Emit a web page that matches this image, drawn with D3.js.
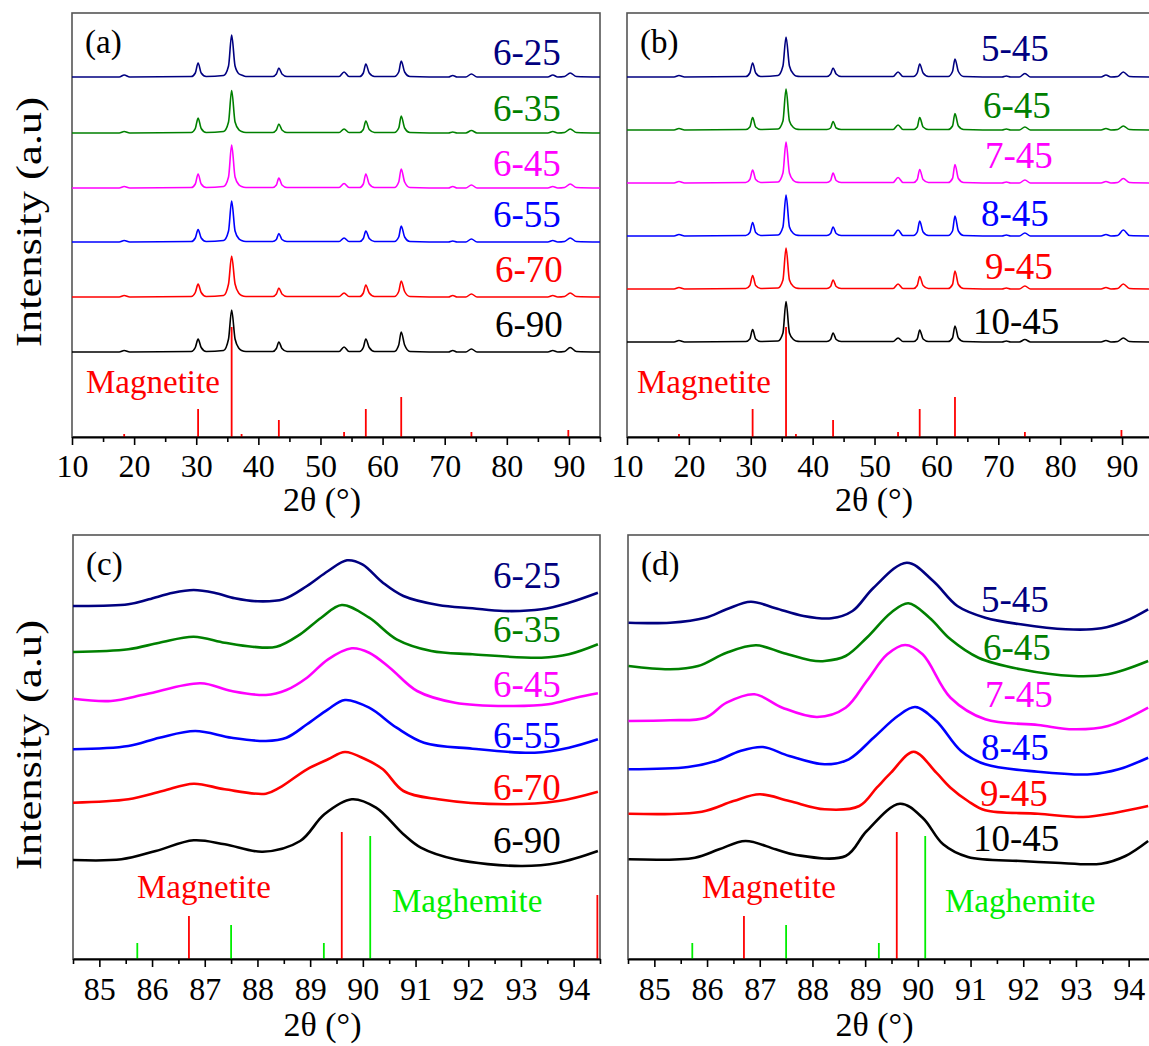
<!DOCTYPE html>
<html>
<head>
<meta charset="utf-8">
<script src="https://cdn.jsdelivr.net/npm/d3@7"></script>
<style>
  body { margin: 0; background: #fff; }
  svg text { font-family: "Liberation Serif", Tinos, "Times New Roman", Times, serif; }
</style>
</head>
<body>
<div class="chart"></div>
<script>

// ---- wide-range scans (10-95 deg), shared 2theta grid, intensity above each trace's baseline
const wideGrid = [10,17.6,18.4,19.3, 29.2,29.85,30.3,30.8,31.6, 34.4,35.2,35.7,36.25,36.9,37.3,38.0,
  42.3,42.9,43.3,43.8,44.6, 53.0,53.8,54.6, 56.3,56.9,57.3,57.85,58.7, 61.9,62.6,63.0,63.55,64.4,
  70.6,71.3,72.0, 73.4,74.3,75.2, 86.6,87.4,88.2, 89.3,90.2,91.2, 95];

const namesA = ['6-25','6-35','6-45','6-55','6-70','6-90'];
const offsetsA = [360, 304, 249, 195, 140, 85];
const scanA = [
  [0,0,2,0, 0.5,4,14,4,0.5, 1.5,11,42,11,3,2,0.5, 0.5,3,9,3,0.5, 0.5,5,0.5, 0.5,4,13,4,0.5, 0.5,5,16,5,0.5, 0,1.5,0, 0,3,0, 0,2,0, 0.5,4,0.5, 0],
  [0,0,1.5,0, 0.5,4.5,15,4.5,0.5, 1.5,11,42.5,11,3,1.5,0.5, 0.5,3,9,3,0.5, 0.5,4,0.5, 0.5,3.5,12,3.5,0.5, 0.5,5,17,5,0.5, 0,1,0, 0,2.5,0, 0,1.5,0, 0.5,4,0.5, 0],
  [0,0,1.5,0, 0.5,4,14,4,0.5, 1.5,11,43,11,3,1.5,0.5, 0.5,3,10,3,0.5, 0.5,4.5,0.5, 0.5,4,14,4,0.5, 0.5,6,19,6,0.5, 0,1.5,0, 0,3,0, 0,1.5,0, 0.5,4,0.5, 0],
  [0,0,1.5,0, 0.5,4,12.5,4,0.5, 1.5,11,41,11,3,1.5,0.5, 0.5,2.5,8.5,2.5,0.5, 0.5,4,0.5, 0.5,3.5,11,3.5,0.5, 0.5,5,16,5,0.5, 0,1,0, 0,3,0, 0,1.5,0, 0.5,4,0.5, 0],
  [0,0,1.5,0, 0.5,4.5,13,4.5,0.5, 1.5,13,41,13,3.5,1.5,0.5, 0.5,3,9,3,0.5, 0.5,4,0.5, 0.5,4,12,4,0.5, 0.5,5.5,16,5.5,0.5, 0,1.5,0, 0,3,0, 0,1.5,0, 0.5,4,0.5, 0],
  [0,0,1.5,0, 0.5,4.5,13,4.5,0.5, 1.5,13,42,13,3.5,1.5,0.5, 0.5,3.5,10,3.5,0.5, 0.5,5,0.5, 0.5,4.5,13,4.5,0.5, 0.5,7,20,7,0.5, 0,1.5,0, 0,3,0, 0,1.5,0, 0.5,4.5,0.5, 0]
];

const namesB = ['5-45','6-45','7-45','8-45','9-45','10-45'];
const offsetsB = [360, 307, 254, 201, 148, 95];
const scanB = [
  [0,0,1.5,0, 0.5,4,14,4,0.5, 1.5,11,40,11,3,1,0.5, 0.5,3,9,3,0.5, 0.5,5,0.5, 0.5,4,13,4,0.5, 0.5,5.5,18,5.5,0.5, 0,1,0, 0,3.5,0, 0,2,0, 0.5,5,0.5, 0],
  [0,0,1.5,0, 0.5,3,12.5,3,0.5, 1,9,41,9,2.5,1,0.5, 0.5,2,8.5,2,0.5, 0.5,5,0.5, 0.5,3,12.5,3,0.5, 0.5,4,16.5,4,0.5, 0,1,0, 0,3,0, 0,1.5,0, 0.5,4,0.5, 0],
  [0,0,1.5,0, 0.5,3.5,13,3.5,0.5, 1,10,41,10,2.5,1,0.5, 0.5,2.5,10,2.5,0.5, 0.5,5.5,0.5, 0.5,3.5,13.5,3.5,0.5, 0.5,4.5,18.5,4.5,0.5, 0,1,0, 0,3,0, 0,1.5,0, 0.5,4.5,0.5, 0],
  [0,0,1.5,0, 0.5,3.5,13.5,3.5,0.5, 1,9,41,9,2.5,1,0.5, 0.5,2.5,9,2.5,0.5, 0.5,6,0.5, 0.5,4,15,4,0.5, 0.5,5,20,5,0.5, 0,1,0, 0,3,0, 0,1.5,0, 0.5,6,0.5, 0],
  [0,0,1.5,0, 0.5,3.5,13.5,3.5,0.5, 1,9,41,9,2.5,1,0.5, 0.5,2.5,9,2.5,0.5, 0.5,5,0.5, 0.5,3.5,12.5,3.5,0.5, 0.5,4.5,18,4.5,0.5, 0,1,0, 0,3,0, 0,1.5,0, 0.5,5,0.5, 0],
  [0,0,1.5,0, 0.5,3,12.5,3,0.5, 1,9,40.5,9,2.5,1,0.5, 0.5,2.5,9,2.5,0.5, 0.5,4,0.5, 0.5,3,12,3,0.5, 0.5,4,16,4,0.5, 0,1,0, 0,2.5,0, 0,1.5,0, 0.5,4,0.5, 0]
];

// reference sticks (magnetite), wide range
const magWidePos = [18.4, 30.3, 35.7, 37.3, 43.3, 53.8, 57.3, 63.0, 74.3, 89.9];
const magWideInt = [3, 28, 110, 3, 17, 5, 28, 40, 5, 7];

// ---- narrow-range scans (84.5-94.5 deg), [2theta, intensity incl. stacking offset]
const scanC = [
  [[84.49,353],[85.55,354.7],[85.94,359.7],[86.40,366.3],[86.79,369],[87.18,366.3],[87.57,360.7],[88.0,357.7],[88.49,359.7],[88.94,373],[89.34,388],[89.70,398.7],[89.99,394.7],[90.38,376.3],[90.77,363],[91.43,354],[92.08,350.7],[92.67,348],[93.39,349.7],[93.91,356.3],[94.46,366.3]],
  [[84.49,307],[85.55,309.7],[86.14,316.3],[86.79,322.3],[87.38,316.3],[87.9,312.3],[88.36,312.3],[88.81,324.7],[89.21,341.3],[89.6,354],[90.12,341.3],[90.64,319.7],[91.3,308],[92.08,304.7],[93.39,301.3],[93.91,304.7],[94.46,314.7]],
  [[84.49,260.3],[85.22,258],[85.88,264.7],[86.92,275.7],[87.51,268],[88.16,264],[88.55,269],[88.94,281.3],[89.34,299.7],[89.79,310.7],[90.12,306.3],[90.51,291.3],[91.03,268],[91.75,256.3],[92.73,253],[93.52,254.7],[94.04,261.3],[94.46,265.7]],
  [[84.49,209.7],[85.55,213],[86.14,221.3],[86.82,228],[87.51,221.3],[88.16,218],[88.55,221.3],[88.94,234.7],[89.34,249.7],[89.66,259],[90.12,251.3],[90.64,231.3],[91.16,216.3],[92.08,210.3],[93.26,206.3],[93.91,211.3],[94.46,219.7]],
  [[84.49,156.3],[85.55,159.7],[86.2,168],[86.79,175.3],[87.38,169.7],[88.16,165.3],[88.42,171.3],[88.94,189.7],[89.34,199.7],[89.66,207],[90.05,199.7],[90.38,189.7],[90.77,168],[91.43,159.7],[92.73,154.7],[93.71,158],[94.46,167.3]],
  [[84.49,99],[85.42,99.7],[86.07,108],[86.79,118.7],[87.38,114.7],[88.1,107.3],[88.81,118],[89.27,144.7],[89.79,159.7],[90.25,151.3],[90.77,124.7],[91.1,111.3],[91.75,99.7],[93.0,93],[93.71,96.3],[94.46,108]]
];
const scanD = [
  [[84.51,336.3],[85.30,336.3],[85.97,341.3],[86.37,349.7],[86.83,357.3],[87.3,350.7],[87.83,343],[88.36,340.7],[88.76,348],[89.16,371.3],[89.79,396.3],[90.29,378],[90.75,353],[91.28,341.3],[91.95,334.7],[92.81,329.7],[93.48,330.7],[93.94,338],[94.37,349.7]],
  [[84.51,293],[85.30,289.7],[85.83,293],[86.37,306.3],[86.93,313.7],[87.43,306.3],[87.96,298.7],[88.23,298],[88.63,303],[89.03,321.3],[89.49,346.3],[89.82,355.7],[90.22,341.3],[90.62,319.7],[91.15,301.3],[91.95,289.7],[92.95,283],[93.61,284.7],[94.37,298]],
  [[84.51,238],[85.30,238.7],[85.97,241.3],[86.37,256.3],[86.90,264.7],[87.43,251.3],[88.09,242],[88.63,251.3],[89.03,278],[89.42,304.7],[89.76,314],[90.09,304.7],[90.62,261.3],[91.28,239.7],[92.28,234],[92.95,229.7],[93.61,233],[94.37,251.3]],
  [[84.51,189.7],[85.64,192],[86.17,198],[86.63,208],[87.06,212],[87.56,203],[88.23,194.7],[88.69,199.7],[89.16,221.3],[89.62,243],[89.95,252],[90.35,238],[90.82,208],[91.28,194.7],[92.28,187.3],[93.28,184.7],[93.81,189.7],[94.37,201.3]],
  [[84.51,145.3],[85.90,147.3],[86.50,158],[87.0,164.7],[87.56,158],[88.23,149.7],[88.89,153],[89.22,171.3],[89.49,186.3],[89.92,207.3],[90.35,186.3],[90.62,171.3],[90.95,158],[91.28,148.7],[92.28,145.3],[93.14,142],[93.75,146.3],[94.37,153]],
  [[84.51,99.7],[85.77,101.3],[86.23,109.7],[86.73,118],[87.3,109.7],[87.69,104],[88.63,103],[89.03,128],[89.66,155.3],[90.09,141.3],[90.48,114.7],[90.95,102],[91.95,98],[92.61,96.3],[93.48,95.3],[93.94,103],[94.37,118]]
];

// reference sticks, narrow range
const magNarrowPos = [86.7, 89.6, 94.45];
const magNarrowInt = [43, 127, 64];
const maghNarrowPos = [85.72, 87.5, 89.26, 90.14];
const maghNarrowInt = [16, 34, 16, 123];

const wideTicks = [10,20,30,40,50,60,70,80,90];
const wideMinor = [15,25,35,45,55,65,75,85,95];
const narrowTicks = [85,86,87,88,89,90,91,92,93,94];
const narrowMinor = [84.5,85.5,86.5,87.5,88.5,89.5,90.5,91.5,92.5,93.5,94.5];

const colors = ['#000080', '#008000', '#ff00ff', '#0000ff', '#ff0000', '#000000'];
const MAG = '#ff0000', MAGH = '#00ee00';
const SERIF = '"Liberation Serif", Tinos, "Times New Roman", Times, serif';

// ---- layout
const W = 1149, H = 1046;
const svg = d3.select('.chart').append('svg')
    .attr('width', W).attr('height', H);

const panels = [
  {tag:'(a)', left:72, right:600, top:13, bottom:437, domain:[10,95], ticks:wideTicks, minor:wideMinor,
   names:namesA, lines: scanA.map((s,k)=>s.map((v,i)=>[wideGrid[i], offsetsA[k]+v])), lw:1.6, smooth:false,
   labelX:[493,493,493,493,495,495], labelY:[65,121,176,227,282,337],
   sticks:[{pos:magWidePos, int:magWideInt, color:MAG}],
   notes:[{text:'Magnetite', x:86, y:393, color:MAG}], tickY:477, titleY:511},
  {tag:'(b)', left:627, right:1153, top:13, bottom:437, domain:[10,95], ticks:wideTicks, minor:wideMinor,
   names:namesB, lines: scanB.map((s,k)=>s.map((v,i)=>[wideGrid[i], offsetsB[k]+v])), lw:1.6, smooth:false,
   labelX:[981,983,985,981,985,973], labelY:[61,118,168,226,279,334],
   sticks:[{pos:magWidePos, int:magWideInt, color:MAG}],
   notes:[{text:'Magnetite', x:637, y:393, color:MAG}], tickY:477, titleY:511},
  {tag:'(c)', left:73, right:600, top:535, bottom:959, domain:[84.5,94.5], ticks:narrowTicks, minor:narrowMinor,
   names:namesA, lines: scanC, lw:2.6, smooth:true,
   labelX:[493,493,493,493,493,493], labelY:[588,642,697,748,800,853],
   sticks:[{pos:magNarrowPos, int:magNarrowInt, color:MAG},{pos:maghNarrowPos, int:maghNarrowInt, color:MAGH}],
   notes:[{text:'Magnetite', x:137, y:898, color:MAG},{text:'Maghemite', x:392, y:912, color:MAGH}], tickY:1000, titleY:1036},
  {tag:'(d)', left:628, right:1155, top:535, bottom:959, domain:[84.5,94.5], ticks:narrowTicks, minor:narrowMinor,
   names:namesB, lines: scanD, lw:2.6, smooth:true,
   labelX:[981,983,985,981,980,973], labelY:[612,660,707,760,806,851],
   sticks:[{pos:magNarrowPos, int:magNarrowInt, color:MAG},{pos:maghNarrowPos, int:maghNarrowInt, color:MAGH}],
   notes:[{text:'Magnetite', x:702, y:898, color:MAG},{text:'Maghemite', x:945, y:912, color:MAGH}], tickY:1000, titleY:1036}
];

panels.forEach((p, pi) => {
  const x = d3.scaleLinear().domain(p.domain).range([p.left, p.right]);
  const y = d3.scaleLinear().domain([0, 424]).range([p.bottom, p.top]);
  const g = svg.append('g');

  const clipId = 'clip' + pi;
  svg.append('clipPath').attr('id', clipId)
    .append('rect')
    .attr('x', p.left).attr('y', p.top)
    .attr('width', p.right - p.left).attr('height', p.bottom - p.top);

  // frame
  g.append('rect')
    .attr('x', p.left).attr('y', p.top)
    .attr('width', p.right - p.left).attr('height', p.bottom - p.top)
    .attr('fill', 'none').attr('stroke', '#555').attr('stroke-width', 1.6);

  const plot = g.append('g').attr('clip-path', `url(#${clipId})`);

  // reference sticks
  p.sticks.forEach(st => {
    plot.selectAll(null)
      .data(st.pos.map((d,i)=>[d, st.int[i]]))
      .enter()
      .append('line')
      .attr('x1', d=>x(d[0])).attr('x2', d=>x(d[0]))
      .attr('y1', y(0)).attr('y2', d=>y(d[1]))
      .attr('stroke', st.color).attr('stroke-width', 1.8);
  });

  // scans
  const line = d3.line()
    .x(d=>x(d[0])).y(d=>y(d[1]))
    .curve(p.smooth ? d3.curveCatmullRom.alpha(0.5) : d3.curveMonotoneX);
  plot.selectAll(null)
    .data(p.lines)
    .enter()
    .append('path')
    .attr('d', line)
    .attr('fill', 'none')
    .attr('stroke', (d,i)=>colors[i])
    .attr('stroke-width', p.lw)
    .attr('stroke-linejoin', 'round');

  // sample labels
  g.selectAll(null)
    .data(p.names)
    .enter()
    .append('text')
    .text(d=>d)
    .attr('x', (d,i)=>p.labelX[i])
    .attr('y', (d,i)=>p.labelY[i])
    .attr('font-family', SERIF)
    .attr('font-size', 37)
    .attr('fill', (d,i)=>colors[i]);

  p.notes.forEach(n => {
    g.append('text').text(n.text)
      .attr('x', n.x).attr('y', n.y)
      .attr('font-family', SERIF)
      .attr('font-size', 33)
      .attr('fill', n.color);
  });

  g.append('text').text(p.tag)
    .attr('x', p.left + 13).attr('y', p.top + 40)
    .attr('font-family', '"Open Sans", sans-serif')
    .attr('font-size', 33)
    .attr('fill', '#000');

  // x axis: major + minor ticks
  const axMajor = d3.axisBottom(x).tickValues(p.ticks).tickSize(8).tickSizeOuter(0).tickPadding(6);
  const axMinor = d3.axisBottom(x).tickValues(p.minor).tickSize(5).tickSizeOuter(0).tickFormat('');
  const ga = g.append('g').attr('transform', `translate(0,${p.bottom})`).call(axMajor);
  const gm = g.append('g').attr('transform', `translate(0,${p.bottom})`).call(axMinor);
  gm.select('.domain').remove();
  ga.attr('font-family', SERIF);
  ga.select('.domain').attr('stroke', '#000').attr('stroke-width', 2);
  ga.selectAll('.tick line').attr('stroke-width', 1.6);
  gm.selectAll('.tick line').attr('stroke-width', 1.6);
  ga.selectAll('.tick text')
    .attr('font-family', SERIF)
    .attr('font-size', 32)
    .attr('fill', '#000')
    .attr('dy', null)
    .attr('y', p.tickY - p.bottom);

  g.append('text').text('2θ (°)')
    .attr('x', (p.left + Math.min(p.right, W)) / 2 - 14)
    .attr('y', p.titleY)
    .attr('text-anchor', 'middle')
    .attr('font-family', SERIF)
    .attr('font-size', 34);
});

// y-axis titles
[222, 745].forEach(cy => {
  svg.append('text')
    .text('Intensity (a.u)')
    .attr('transform', `translate(41,${cy}) rotate(-90)`)
    .attr('text-anchor', 'middle')
    .attr('font-family', SERIF)
    .attr('font-size', 36)
    .attr('textLength', 250)
    .attr('lengthAdjust', 'spacingAndGlyphs');
});

</script>
</body>
</html>
